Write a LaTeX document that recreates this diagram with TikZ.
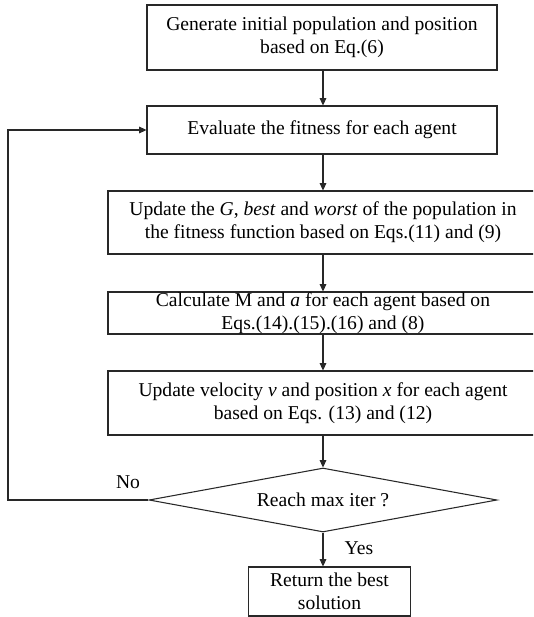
\documentclass[tikz,border=0pt]{standalone}
\usepackage{fontspec}
\setmainfont{Liberation Serif}
\usetikzlibrary{shapes.geometric, arrows.meta, positioning, calc}
\definecolor{lineblack}{RGB}{40, 40, 40}

\begin{document}
\begin{tikzpicture}[x=0.75pt, y=-0.75pt, line width=0.8pt,
    procbox/.style={rectangle, draw=lineblack, align=center, inner sep=0pt, text=black},
    decision/.style={diamond, draw=lineblack, aspect=5.4, inner sep=0pt, minimum width=261pt, minimum height=48pt},
    flowarrow/.style={draw=lineblack, -{Triangle[length=5.5pt, width=5pt]}},
    font=\fontsize{14.7}{17.3}\selectfont]
        \clip (0,0) rectangle (533,617);

        % Process boxes
        \node[procbox, minimum width=262.5pt, minimum height=48.75pt] (init) at (322,37.5) {Generate initial population and position\\based on Eq.(6)};
        \node[procbox, minimum width=262.5pt, minimum height=36pt] (fitness) at (322,130) {Evaluate the fitness for each agent};
        \node[procbox, minimum width=322.5pt, minimum height=47.25pt] (update) at (323,222.5) {Update the \textit{G}, \textit{best} and \textit{worst} of the population in\\the fitness function based on Eqs.(11) and (9)};
        \node[procbox, minimum width=322.5pt, minimum height=31.5pt] (calc) at (323,313) {Calculate M and \textit{a} for each agent based on\\Eqs.(14).(15).(16) and (8)};
        \node[procbox, minimum width=322.5pt, minimum height=48pt] (move) at (323,403) {Update velocity \textit{v} and position \textit{x} for each agent\\based on Eqs. (13) and (12)};

        % Stopping test and result
        \node[decision] (check) at (323,500) {Reach max iter ?};
        \node[procbox, minimum width=122pt, minimum height=36.75pt] (result) at (329.5,591.5) {Return the best\\solution};

        % Main flow
        \draw[flowarrow] (init.south -| check.north) -- (fitness.north -| check.north);
        \draw[flowarrow] (fitness.south -| check.north) -- (update.north -| check.north);
        \draw[flowarrow] (update.south -| check.north) -- (calc.north -| check.north);
        \draw[flowarrow] (calc.south -| check.north) -- (move.north -| check.north);
        \draw[flowarrow] (move.south -| check.north) -- (check.north);
        \draw[flowarrow] (check.south) -- (result.north -| check.south);
        \node (yes) at (359,548) {Yes};

        % Loop back
        \coordinate (back) at (8,500);
        \draw[flowarrow] (check.west) -- (back) |- (fitness.west);
        \node (no) at (128,482) {No};
    \end{tikzpicture}
\end{document}
